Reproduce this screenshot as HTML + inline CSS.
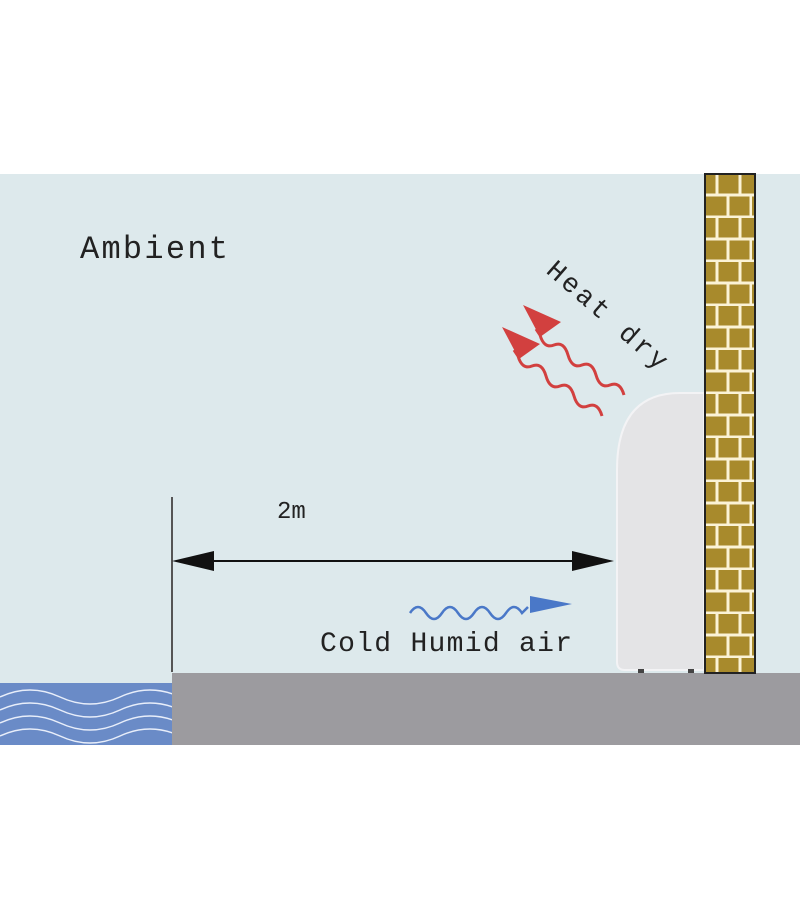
<!DOCTYPE html>
<html><head><meta charset="utf-8"><style>html,body{margin:0;padding:0;background:#fff}svg{display:block}</style></head>
<body>
<svg width="800" height="920" viewBox="0 0 800 920" xmlns="http://www.w3.org/2000/svg">
<defs>
<pattern id="brick" x="706" y="174" width="46" height="44" patternUnits="userSpaceOnUse">
<rect width="46" height="44" fill="#a88a2c"/>
<g stroke="#fbf3d6" stroke-width="3">
<line x1="0" y1="21" x2="46" y2="21"/><line x1="0" y1="43" x2="46" y2="43"/>
<line x1="11" y1="0" x2="11" y2="21"/><line x1="34" y1="0" x2="34" y2="21"/>
<line x1="22" y1="22" x2="22" y2="43"/><line x1="45" y1="22" x2="45" y2="43"/>
</g>
</pattern>
<clipPath id="wc"><rect x="0" y="683" width="172" height="62"/></clipPath>
<clipPath id="tc"><rect x="0" y="0" width="678" height="920"/></clipPath>
</defs>
<rect x="0" y="174" width="800" height="571" fill="#dde9ec"/>
<rect x="172" y="673" width="628" height="72" fill="#9c9b9f"/>
<rect x="0" y="683" width="172" height="62" fill="#6a8bc7"/>
<g fill="none" stroke="#e8eefa" stroke-width="1.5" clip-path="url(#wc)">
<path d="M0,697 q30,-14 60,0 t60,0 t60,0"/>
<path d="M0,710 q30,-14 60,0 t60,0 t60,0"/>
<path d="M0,723 q30,-14 60,0 t60,0 t60,0"/>
<path d="M0,736 q30,-14 60,0 t60,0 t60,0"/>
</g>
<line x1="172" y1="497" x2="172" y2="672" stroke="#555" stroke-width="2"/>
<g clip-path="url(#tc)">
<text x="545" y="272" font-family="Liberation Mono, monospace" font-size="27" letter-spacing="3" fill="#222" transform="rotate(41 545 272)">Heat dry a</text>
</g>
<!-- unit -->
<path d="M704,393 L680,393 Q617,393 617,470 L617,662 Q617,670 625,670 L704,670 Z" fill="#e4e4e6" stroke="#f3f3f5" stroke-width="2"/>
<rect x="638" y="669" width="6" height="4" fill="#444"/><rect x="688" y="669" width="6" height="4" fill="#444"/>
<!-- wall -->
<rect x="705" y="174" width="50" height="499" fill="url(#brick)" stroke="#222" stroke-width="2"/>
<!-- 2m arrow -->
<line x1="176" y1="561" x2="610" y2="561" stroke="#111" stroke-width="2"/>
<path d="M172,561 L214,551 L214,571 Z" fill="#111"/>
<path d="M614,561 L572,551 L572,571 Z" fill="#111"/>
<text x="277" y="518" font-family="Liberation Mono, monospace" font-size="24" fill="#222">2m</text>
<!-- cold wave -->
<path d="M410,613 q8,-12 16,0 q8,12 16,0 q8,-12 16,0 q8,12 16,0 q8,-12 16,0 q8,12 16,0 q8,-12 16,0 l6,-6" fill="none" stroke="#4a78c8" stroke-width="2.5"/>
<path d="M530,596 L572,604 L530,613 Z" fill="#4a78c8"/>
<text x="320" y="651" font-family="Liberation Mono, monospace" font-size="28" textLength="252" fill="#222">Cold Humid air</text>
<text x="80" y="258" font-family="Liberation Mono, monospace" font-size="32" textLength="148" fill="#222">Ambient</text>
<!-- red waves -->
<g fill="none" stroke="#d2403f" stroke-width="3">
<path d="M624,395 q-4,-14 -14,-10 q-10,4 -14,-10 q-4,-14 -14,-10 q-10,4 -14,-10 q-4,-14 -14,-10 q-10,4 -14,-10 l-4,-6"/>
<path d="M602,416 q-4,-14 -14,-10 q-10,4 -14,-10 q-4,-14 -14,-10 q-10,4 -14,-10 q-4,-14 -14,-10 q-10,4 -14,-10 l-4,-6"/>
</g>
<path d="M523,305 L561,322 L540,337 Z" fill="#d2403f"/>
<path d="M502,327 L540,344 L519,359 Z" fill="#d2403f"/>
</svg>
</body></html>
